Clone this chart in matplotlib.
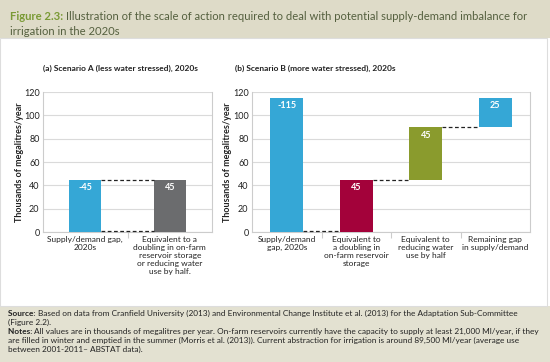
import matplotlib
matplotlib.use("Agg")
import matplotlib.pyplot as plt
import matplotlib.patches as patches

plt.rcParams['font.family'] = ['Lato', 'DejaVu Sans']

# scenario A
a_labels = ["Supply/demand gap,\n2020s",
            "Equivalent to a\ndoubling in on-farm\nreservoir storage\nor reducing water\nuse by half."]
a_values = [45, 45]
a_bottoms = [0, 0]
a_text = ["-45", "45"]
a_colors = ["#35a7d6", "#6b6c6e"]

# scenario B
b_labels = ["Supply/demand\ngap, 2020s",
            "Equivalent to\na doubling in\non-farm reservoir\nstorage",
            "Equivalent to\nreducing water\nuse by half",
            "Remaining gap\nin supply/demand"]
b_values = [115, 45, 45, 25]
b_bottoms = [0, 0, 45, 90]
b_text = ["-115", "45", "45", "25"]
b_colors = ["#35a7d6", "#a3023a", "#8a9b2d", "#35a7d6"]

yticks = [0, 20, 40, 60, 80, 100, 120]

W, H = 550, 362
fig = plt.figure(figsize=(W / 100, H / 100), dpi=100)
fig.patch.set_facecolor("white")

# bands top and bottom
fig.patches.append(patches.Rectangle((0, 1 - 38 / H), 1, 38 / H, transform=fig.transFigure,
                                     facecolor="#dedbc8", edgecolor="none", zorder=0))
fig.patches.append(patches.Rectangle((0, 0), 1, 1 - 306 / H, transform=fig.transFigure,
                                     facecolor="#e3e1d1", edgecolor="none", zorder=0))
fig.patches.append(patches.Rectangle((0, 1 - 306 / H), 547 / W, (306 - 38) / H, transform=fig.transFigure,
                                     facecolor="none", edgecolor="#dddddd", linewidth=0.8, zorder=0))

renderer = fig.canvas.get_renderer()

def run_text(x, y, parts, size):
    # draw consecutive pieces of text with different weights on one line
    for s, weight, col in parts:
        t = fig.text(x / W, 1 - y / H, s, fontsize=size, fontweight=weight, color=col,
                     ha="left", va="baseline")
        bb = t.get_window_extent(renderer)
        x += bb.width

title_size = 8.15
run_text(10, 20, [("Figure 2.3: ", "bold", "#7a9a35"),
                  ("Illustration of the scale of action required to deal with potential supply-demand imbalance for",
                   "normal", "#55603f")], title_size)
run_text(10, 35, [("irrigation in the 2020s", "normal", "#55603f")], title_size)

note_size = 5.95
ink = "#222222"
run_text(8, 316, [("Source: ", "bold", ink),
                  ("Based on data from Cranfield University (2013) and Environmental Change Institute et al. (2013) for the Adaptation Sub-Committee",
                   "normal", ink)], note_size)
run_text(8, 325, [("(Figure 2.2).", "normal", ink)], note_size)
run_text(8, 334, [("Notes: ", "bold", ink),
                  ("All values are in thousands of megalitres per year. On-farm reservoirs currently have the capacity to supply at least 21,000 Ml/year, if they",
                   "normal", ink)], note_size)
run_text(8, 343, [("are filled in winter and emptied in the summer (Morris et al. (2013)). Current abstraction for irrigation is around 89,500 Ml/year (average use",
                   "normal", ink)], note_size)
run_text(8, 352, [("between 2001-2011\u2013 ABSTAT data).", "normal", ink)], note_size)


def draw_panel(rect, labels, values, bottoms, texts, colors, width, title, title_x, ylab_x):
    ax = fig.add_axes(rect)
    n = len(values)
    xs = list(range(n))
    ax.bar(xs, values, width=width, bottom=bottoms, color=colors, zorder=3)
    for i in xs:
        top = bottoms[i] + values[i]
        ax.text(i, top - 3, texts[i], ha="center", va="top", color="white",
                fontsize=6.5, fontweight="bold", zorder=4)
    # dashed connectors between neighbouring bars at shared levels
    for i in range(n - 1):
        top = bottoms[i] + values[i]
        nxt = i + 1
        nb, nt = bottoms[nxt], bottoms[nxt] + values[nxt]
        for lv in (bottoms[i], top):
            if lv in (nb, nt):
                ax.hlines(lv + (0.6 if lv == 0 else 0), i + width / 2, nxt - width / 2,
                          colors=ink, linestyles=(0, (3, 2)), linewidth=0.9,
                          zorder=5, clip_on=False)
    ax.set_xlim(-0.5, n - 0.5)
    ax.set_ylim(0, 120)
    ax.set_yticks(yticks)
    ax.set_yticklabels([str(v) for v in yticks], fontsize=6.5, color=ink)
    ax.tick_params(axis="y", length=0, pad=2.5)
    ax.set_xticks(xs)
    ax.set_xticklabels(labels, fontsize=6, color=ink, linespacing=1.15)
    ax.set_xticks([i + 0.5 for i in range(n - 1)], minor=True)
    ax.tick_params(axis="x", which="major", length=0, pad=3)
    ax.tick_params(axis="x", which="minor", length=4, color="#cccccc", width=0.8)
    ax.grid(axis="y", color="#dadada", linewidth=0.8, zorder=0)
    for s in ["left", "right", "bottom"]:
        ax.spines[s].set_color("#cccccc")
        ax.spines[s].set_linewidth(0.8)
    ax.spines["top"].set_visible(False)
    fig.text(title_x / W, 1 - 71 / H, title, fontsize=6, fontweight="bold",
             color=ink, ha="left", va="baseline")
    fig.text(ylab_x / W, 1 - 162 / H, "Thousands of megalitres/year", fontsize=6.5,
             fontweight="bold", color=ink, rotation=90, ha="center", va="center")
    return ax


draw_panel([43 / W, 1 - 232 / H, 169 / W, 140 / H], a_labels, a_values, a_bottoms, a_text,
           a_colors, 0.38, "(a) Scenario A (less water stressed), 2020s", 43, 20)
draw_panel([252 / W, 1 - 232 / H, 278 / W, 140 / H], b_labels, b_values, b_bottoms, b_text,
           b_colors, 0.47, "(b) Scenario B (more water stressed), 2020s", 235, 228)

fig.savefig("out.png", dpi=100)
